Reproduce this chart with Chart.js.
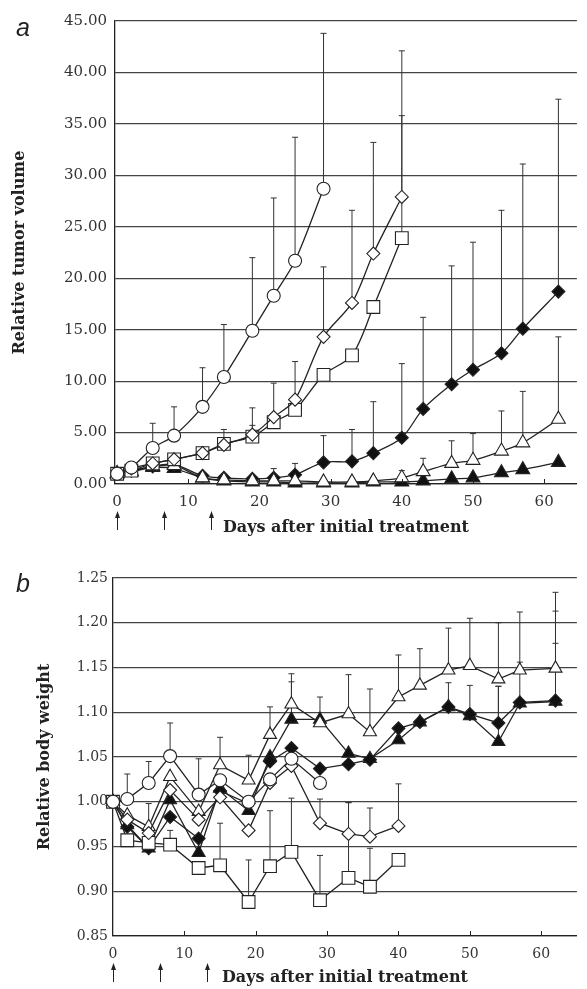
<!DOCTYPE html>
<html>
<head>
<meta charset="utf-8">
<script src="https://cdn.jsdelivr.net/npm/chart.js@4"></script>
<style>
body { margin: 0; background: #fff; width: 587px; height: 989px; position: relative; overflow: hidden; }
.panel { position: absolute; left: 0; width: 587px; }
#wrapA { top: 0; height: 545px; }
#wrapB { top: 545px; height: 444px; }
.tag { position: absolute; font: italic 25px "Liberation Sans", sans-serif; color: #222; }
</style>
</head>
<body>
<div class="panel" id="wrapA"><canvas id="chartA"></canvas></div>
<div class="panel" id="wrapB"><canvas id="chartB"></canvas></div>
<div class="tag" style="left:16px;top:13px">a</div>
<div class="tag" style="left:16px;top:569px">b</div>
<script>
// sampling days (same for both panels)
const days = [0, 2, 5, 8, 12, 15, 19, 22, 25, 29, 33, 36, 40, 43, 47, 50, 54, 57, 62];
const xTicks = [0, 10, 20, 30, 40, 50, 60];
const arrowDays = [0, 6.6, 13.2];

// panel a: relative tumor volume
const yTicksA = [0, 5, 10, 15, 20, 25, 30, 35, 40, 45];
const circleA = [1.0, 1.6, 3.5, 4.7, 7.5, 10.4, 14.9, 18.3, 21.7, 28.7];
const circleErrA = [0, 0, 2.4, 2.8, 3.8, 5.1, 7.1, 9.5, 12.0, 15.1];
const diamondA = [1.0, 1.5, 2.0, 2.4, 3.0, 3.8, 4.8, 6.5, 8.2, 14.3, 17.6, 22.4, 27.9];
const diamondErrA = [0, 0, 0, 0, 0, 0, 0.9, 3.3, 3.7, 6.8, 9.0, 10.8, 14.2];
const squareA = [1.0, 1.3, 2.0, 2.4, 3.0, 3.9, 4.6, 6.0, 7.2, 10.6, 12.5, 17.2, 23.9];
const squareErrA = [0, 0, 0, 0, 0, 1.4, 2.8, 0, 0, 0, 0, 0, 11.9];
const triangleA = [1.0, 1.2, 1.7, 1.8, 0.6, 0.4, 0.3, 0.3, 0.3, 0.2, 0.2, 0.3, 0.6, 1.2, 2.0, 2.3, 3.2, 4.0, 6.3];
const triangleErrA = [0, 0, 0, 0, 0, 0, 0, 0, 0, 0, 0, 0, 0.7, 1.3, 2.2, 2.6, 3.9, 5.0, 8.0];
const solidDiamondA = [1.0, 1.3, 1.7, 1.9, 0.8, 0.6, 0.5, 0.6, 0.9, 2.1, 2.2, 3.0, 4.5, 7.3, 9.7, 11.1, 12.7, 15.1, 18.7];
const solidDiamondErrA = [0, 0, 0, 0, 0, 0, 0, 0.9, 1.1, 2.6, 3.1, 5.0, 7.2, 8.9, 11.5, 12.4, 13.9, 16.0, 18.7];
const solidTriangleA = [1.0, 1.2, 1.6, 1.5, 0.6, 0.3, 0.2, 0.2, 0.1, 0.1, 0.1, 0.2, 0.2, 0.3, 0.5, 0.6, 1.1, 1.4, 2.1];

// panel b: relative body weight
const yTicksB = [0.85, 0.90, 0.95, 1.00, 1.05, 1.10, 1.15, 1.20, 1.25];
const circleB = [1.0, 1.003, 1.021, 1.051, 1.008, 1.024, 1.0, 1.025, 1.048, 1.021];
const circleErrB = [0, 0.028, 0.024, 0.037, 0.04, 0, 0, 0, 0, 0];
const diamondB = [1.0, 0.98, 0.965, 1.013, 0.98, 1.005, 0.968, 1.021, 1.04, 0.976, 0.964, 0.961, 0.973];
const diamondErrB = [0, 0, 0, 0, 0, 0, 0, 0, 0, 0.027, 0.035, 0.032, 0.047];
const squareB = [1.0, 0.957, 0.954, 0.952, 0.926, 0.929, 0.888, 0.928, 0.944, 0.890, 0.915, 0.905, 0.935];
const squareErrB = [0, 0, 0, 0.016, 0, 0.047, 0.047, 0.062, 0.06, 0.05, 0.084, 0.043, 0];
const triangleB = [1.0, 0.985, 0.972, 1.028, 0.989, 1.041, 1.024, 1.075, 1.109, 1.088, 1.098, 1.078, 1.117, 1.130, 1.147, 1.152, 1.137, 1.147, 1.149];
const triangleErrB = [0, 0, 0, 0, 0, 0.031, 0.028, 0.031, 0.034, 0, 0.044, 0.048, 0.047, 0.041, 0.047, 0.053, 0.063, 0.065, 0.085];
const solidDiamondB = [1.0, 0.972, 0.948, 0.983, 0.959, 1.012, 0.998, 1.045, 1.06, 1.037, 1.042, 1.047, 1.082, 1.089, 1.106, 1.098, 1.088, 1.111, 1.113];
const solidDiamondErrB = [0, 0, 0.05, 0, 0, 0, 0, 0, 0, 0, 0, 0, 0, 0, 0, 0, 0.041, 0, 0.1];
const solidTriangleB = [1.0, 0.974, 0.948, 1.002, 0.943, 1.015, 0.99, 1.05, 1.092, 1.092, 1.054, 1.048, 1.069, 1.089, 1.106, 1.096, 1.067, 1.11, 1.112];
const solidTriangleErrB = [0, 0, 0, 0, 0, 0, 0, 0, 0.042, 0.025, 0, 0, 0, 0, 0.027, 0.034, 0.062, 0.046, 0.065];

const ink = '#222';

function series(values, errors, style, filled, radius, tension) {
    return {
        data: values.map((v, i) => ({x: days[i], y: v})),
        errors: errors,
        borderColor: ink,
        borderWidth: 1.3,
        pointStyle: style,
        pointRadius: radius,
        pointBackgroundColor: filled ? '#111' : '#fff',
        pointBorderColor: ink,
        pointBorderWidth: 1.1,
        tension: tension,
        clip: false,
        fill: false
    };
}

// upward error bars with a small cap
const errorBars = {
    id: 'errorBars',
    beforeDatasetsDraw(chart) {
        const {ctx, scales: {x, y}} = chart;
        ctx.save();
        ctx.strokeStyle = '#333';
        ctx.lineWidth = 1;
        chart.data.datasets.forEach(ds => {
            if (!ds.errors) return;
            ds.data.forEach((p, i) => {
                const e = ds.errors[i];
                if (!e) return;
                const px = x.getPixelForValue(p.x);
                const y0 = y.getPixelForValue(p.y);
                const y1 = y.getPixelForValue(p.y + e);
                ctx.beginPath();
                ctx.moveTo(px, y0);
                ctx.lineTo(px, y1);
                ctx.moveTo(px - 3, y1);
                ctx.lineTo(px + 3, y1);
                ctx.stroke();
            });
        });
        ctx.restore();
    }
};

// inner tick marks and treatment arrows under the x axis
const axisMarks = {
    id: 'axisMarks',
    afterDraw(chart) {
        const {ctx, scales: {x}, chartArea} = chart;
        const b = chartArea.bottom;
        ctx.save();
        ctx.strokeStyle = ink;
        ctx.fillStyle = ink;
        ctx.lineWidth = 1;
        xTicks.forEach(v => {
            if (v === 0) return;
            const px = Math.round(x.getPixelForValue(v)) + 0.5;
            ctx.beginPath();
            ctx.moveTo(px, b);
            ctx.lineTo(px, b - 5);
            ctx.stroke();
        });
        arrowDays.forEach(d => {
            const px = Math.round(x.getPixelForValue(d)) + 0.5;
            ctx.beginPath();
            ctx.moveTo(px, b + 46);
            ctx.lineTo(px, b + 30);
            ctx.stroke();
            ctx.beginPath();
            ctx.moveTo(px, b + 27);
            ctx.lineTo(px - 2.5, b + 34);
            ctx.lineTo(px + 2.5, b + 34);
            ctx.closePath();
            ctx.fill();
        });
        ctx.restore();
    }
};

function makeChart(id, datasets, opt) {
    return new Chart(document.getElementById(id).getContext('2d'), {
        type: 'line',
        data: {datasets},
        options: {
            responsive: true,
            maintainAspectRatio: false,
            animation: false,
            layout: {padding: {top: opt.top, right: 0, left: 0, bottom: 0}},
            plugins: {legend: {display: false}, tooltip: {enabled: false}},
            scales: {
                x: {
                    type: 'linear',
                    min: opt.xMin,
                    max: opt.xMax,
                    afterBuildTicks: s => { s.ticks = xTicks.map(v => ({value: v})); },
                    afterFit: s => { s.height = opt.xHeight; },
                    grid: {display: false, drawTicks: false},
                    border: {display: true, color: ink, width: 1.3},
                    ticks: {
                        padding: opt.xPad,
                        color: '#333',
                        font: {family: 'DejaVu Serif', size: opt.xFont},
                        maxRotation: 0
                    },
                    title: {
                        display: true,
                        text: 'Days after initial treatment',
                        color: '#222',
                        font: {family: 'DejaVu Serif', size: opt.titleFont, weight: 'bold'},
                        padding: {top: 0, bottom: opt.titlePad}
                    }
                },
                y: {
                    min: opt.yMin,
                    max: opt.yMax,
                    afterBuildTicks: s => { s.ticks = opt.yTicks.map(v => ({value: v})); },
                    afterFit: s => { s.width = opt.yWidth; },
                    grid: {color: '#444', lineWidth: 1.2, drawTicks: false},
                    border: {display: true, color: ink, width: 1.3},
                    ticks: {
                        padding: opt.yPad,
                        color: '#333',
                        font: {family: 'DejaVu Serif', size: opt.yFont},
                        callback: v => v.toFixed(2)
                    },
                    title: {
                        display: true,
                        text: opt.yTitle,
                        color: '#222',
                        font: {family: 'DejaVu Serif', size: opt.titleFont, weight: 'bold'},
                        padding: {top: opt.yTitlePad, bottom: 0}
                    }
                }
            }
        },
        plugins: [errorBars, axisMarks]
    });
}

makeChart('chartA', [
    series(circleA, circleErrA, 'circle', false, 6.5, 0.3),
    series(diamondA, diamondErrA, 'rectRot', false, 6.5, 0.3),
    series(squareA, squareErrA, 'rect', false, 9, 0.3),
    series(triangleA, triangleErrA, 'triangle', false, 8, 0.3),
    series(solidDiamondA, solidDiamondErrA, 'rectRot', true, 6.5, 0.3),
    series(solidTriangleA, null, 'triangle', true, 8, 0.3)
], {
    top: 21, xMin: -0.3, xMax: 64.6, xHeight: 61, xPad: 9, xFont: 15,
    yMin: 0, yMax: 45, yTicks: yTicksA, yWidth: 115, yPad: 8, yFont: 15,
    titleFont: 16, titlePad: 8, yTitle: 'Relative tumor volume', yTitlePad: 10
});

makeChart('chartB', [
    series(circleB, circleErrB, 'circle', false, 6.5, 0),
    series(diamondB, diamondErrB, 'rectRot', false, 6.5, 0),
    series(squareB, squareErrB, 'rect', false, 9, 0),
    series(triangleB, triangleErrB, 'triangle', false, 7.5, 0),
    series(solidDiamondB, solidDiamondErrB, 'rectRot', true, 6.5, 0),
    series(solidTriangleB, solidTriangleErrB, 'triangle', true, 7.5, 0)
], {
    top: 33, xMin: 0, xMax: 65, xHeight: 53, xPad: 10, xFont: 14,
    yMin: 0.85, yMax: 1.25, yTicks: yTicksB, yWidth: 113, yPad: 5, yFont: 14,
    titleFont: 16, titlePad: 2, yTitle: 'Relative body weight', yTitlePad: 35
});
</script>
</body>
</html>
